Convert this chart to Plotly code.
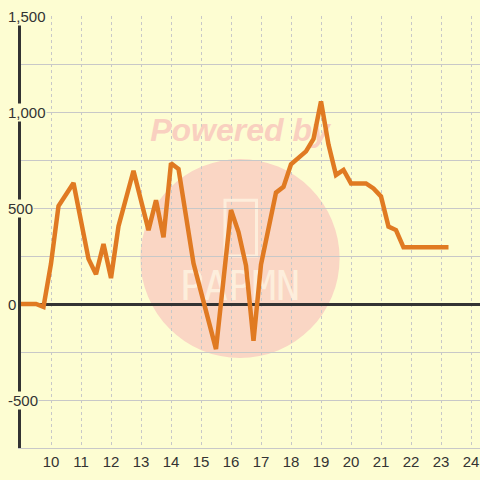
import plotly.graph_objects as go

# ---- data ----
hours = [9.0, 9.5, 9.75, 10.0, 10.25, 10.75, 11.25, 11.5, 11.75, 12.0, 12.25,
         12.75, 13.25, 13.5, 13.75, 14.0, 14.25, 14.75, 15.5, 16.0, 16.25,
         16.5, 16.75, 17.0, 17.5, 17.75, 18.0, 18.25, 18.5, 18.75, 19.0,
         19.25, 19.5, 19.75, 20.0, 20.5, 20.75, 21.0, 21.25, 21.5, 21.75, 23.25]
values = [0, 0, -15, 210, 510, 630, 235, 155, 312, 135, 405,
          694, 385, 540, 348, 733, 703, 212, -235, 490, 375,
          200, -192, 205, 580, 610, 728, 760, 795, 860, 1055,
          830, 672, 698, 628, 628, 602, 560, 403, 385, 295, 295]

x_ticks = list(range(10, 25))
y_label_vals = [1500, 1000, 500, 0, -500]
y_label_text = ["1,500", "1,000", "500", "0", "-500"]

BG = "#fdfdd2"
LINE = "#e07a22"
GRID = "#c8c8c8"
DARK = "#333333"
FONT = "Liberation Sans, Arial, sans-serif"

fig = go.Figure()

# watermark (under the line)
fig.add_shape(type="circle", xref="x", yref="y", x0=12.98, x1=19.62, y0=-281, y1=755,
              fillcolor="#fad6c4", line=dict(width=0), layer="below")
fig.add_shape(type="rect", xref="x", yref="y", x0=15.8, x1=16.85, y0=250, y1=540,
              line=dict(color="#fdeedc", width=3), fillcolor="rgba(0,0,0,0)", layer="below")
fig.add_trace(go.Scatter(x=[16.3], y=[890], mode="text", text=["<b><i>Powered by</i></b>"],
                         textfont=dict(size=32, color="#f9d0c0", family=FONT),
                         hoverinfo="skip", showlegend=False))
fig.add_trace(go.Scatter(x=[16.3], y=[75], mode="text", text=["PAPMN"],
                         textfont=dict(size=40, color="#fdeedc", family="DejaVu Sans Mono"),
                         hoverinfo="skip", showlegend=False))

# data line
fig.add_trace(go.Scatter(x=hours, y=values, mode="lines",
                         line=dict(color=LINE, width=4.5), showlegend=False))

# y tick labels with background covering the axis line
for v, t in zip(y_label_vals, y_label_text):
    fig.add_annotation(xref="paper", yref="y", x=-14 / 459, y=v, text=t,
                       showarrow=False, xanchor="left", yanchor="middle",
                       font=dict(size=15, color=DARK, family=FONT),
                       bgcolor=BG, borderpad=0)

fig.update_layout(
    width=480, height=480,
    margin=dict(l=21, r=0, t=16, b=32, autoexpand=False),
    paper_bgcolor=BG, plot_bgcolor=BG,
    showlegend=False,
    xaxis=dict(range=[9.0, 24.3], tickvals=x_ticks, showgrid=True, gridcolor=GRID,
               griddash="dot", gridwidth=1, zeroline=False, showline=True,
               linecolor=GRID, linewidth=1, ticks="", automargin=False,
               tickfont=dict(size=15, color=DARK, family=FONT)),
    yaxis=dict(range=[-750, 1500], dtick=250, showgrid=True, gridcolor=GRID, gridwidth=1,
               showticklabels=False, zeroline=True, zerolinecolor=DARK, zerolinewidth=3,
               showline=True, linecolor=DARK, linewidth=3, ticks="", automargin=False),
)

fig.write_html("out.html", config={"displayModeBar": False},
               post_script="document.body.style.margin='0';document.body.style.overflow='hidden';")
